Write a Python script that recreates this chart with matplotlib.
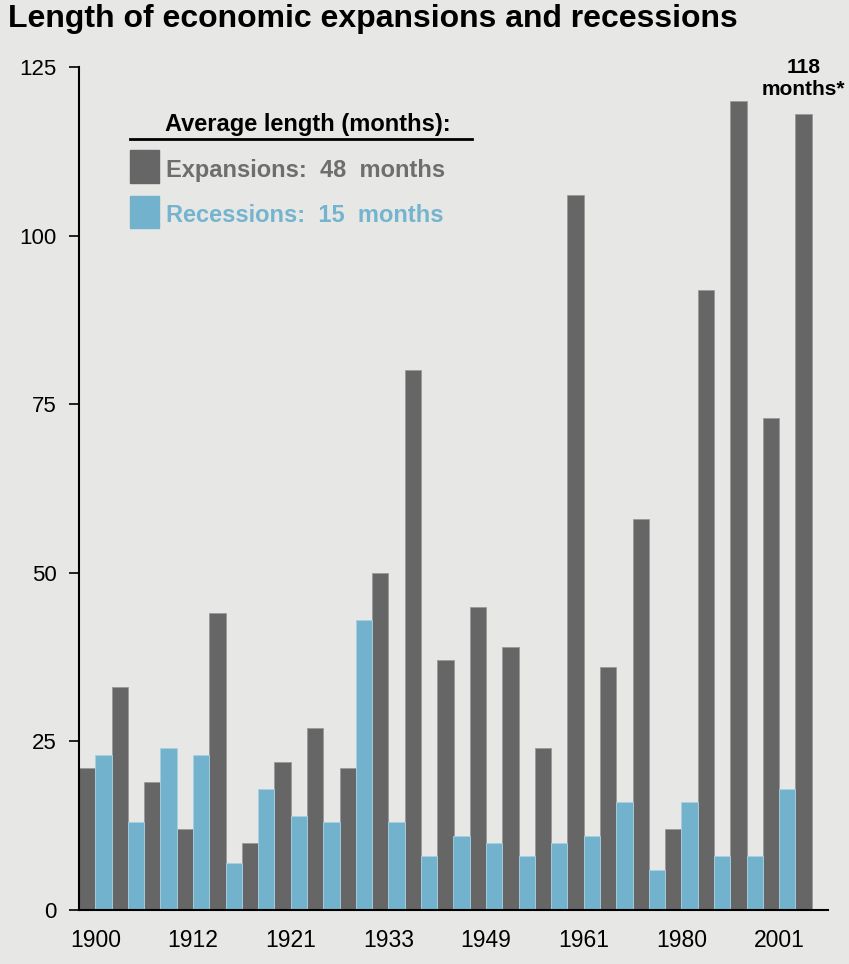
import numpy as np
import matplotlib
matplotlib.use('Agg')
import matplotlib.pyplot as plt
from matplotlib.patches import Rectangle
from matplotlib.lines import Line2D

plt.rcParams['font.family'] = ['Liberation Sans', 'DejaVu Sans']

# one category per cycle: expansion followed by recession (last cycle still running)
expansions = [21, 33, 19, 12, 44, 10, 22, 27, 21, 50, 80, 37, 45, 39, 24, 106, 36, 58, 12, 92, 120, 73, 118]
recessions = [23, 13, 24, 23, 7, 18, 14, 13, 43, 13, 8, 11, 10, 8, 10, 11, 16, 6, 16, 8, 8, 18]
tick_labels = ['1900', '1912', '1921', '1933', '1949', '1961', '1980', '2001']
tick_every = 3
avg_expansion = 48
avg_recession = 15

BG = '#e7e7e5'
GRAY = '#666666'
BLUE = '#73b2cc'

W, H = 849, 964
fig = plt.figure(figsize=(W / 100, H / 100), dpi=100, facecolor=BG)


def fx(px):
    return px / W


def fy(py):
    return 1 - py / H


ax = fig.add_axes([fx(79), fy(910), fx(828) - fx(79), fy(67) - fy(910)])
ax.set_facecolor(BG)

n = len(expansions)
x = np.arange(n)
ax.bar(x - 0.25, expansions, width=0.5, color=GRAY, edgecolor='#9a9a9a', linewidth=0.6, zorder=2)
ax.bar(x[:len(recessions)] + 0.25, recessions, width=0.5, color=BLUE, edgecolor='#a6d0e2', linewidth=0.6, zorder=2)

ax.set_xlim(-0.5, n - 0.5)
ax.set_ylim(0, 125)
ax.set_yticks([0, 25, 50, 75, 100, 125])
ax.set_xticks(x[::tick_every])
ax.set_xticklabels(tick_labels)
ax.tick_params(axis='y', direction='out', length=7, width=1.2, labelsize=16, pad=9)
ax.tick_params(axis='x', length=0, labelsize=16.5, pad=14)
for s in ['top', 'right']:
    ax.spines[s].set_visible(False)
ax.spines['left'].set_linewidth(1.5)
ax.spines['bottom'].set_linewidth(1.5)
ax.spines['left'].set_zorder(3)
ax.spines['bottom'].set_zorder(3)

# label for the current expansion
ax.annotate(f'{expansions[-1]}\nmonths*', xy=(n - 1 - 0.25, expansions[-1]), xytext=(0, 11),
            textcoords='offset points', ha='center', va='bottom', fontsize=15,
            fontweight='bold', linespacing=1.2)

# title
fig.text(fx(8), fy(19), 'Length of economic expansions and recessions', fontsize=23,
         fontweight='bold', ha='left', va='center')

# legend block
fig.text(fx(165), fy(125), 'Average length (months):', fontsize=17, fontweight='bold',
         ha='left', va='center')
fig.add_artist(Line2D([fx(130), fx(472)], [fy(139), fy(139)], color='black', lw=2))
fig.add_artist(Rectangle((fx(130), fy(183)), fx(29), fy(150) - fy(183), color=GRAY,
                         transform=fig.transFigure))
fig.add_artist(Rectangle((fx(130), fy(228)), fx(29), fy(196) - fy(228), color=BLUE,
                         transform=fig.transFigure))
fig.text(fx(166), fy(170), f'Expansions:  {avg_expansion}  months', fontsize=17,
         fontweight='bold', color='#6e6e6e', ha='left', va='center')
fig.text(fx(166), fy(215), f'Recessions:  {avg_recession}  months', fontsize=17,
         fontweight='bold', color='#74b4ce', ha='left', va='center')

fig.savefig('out.png', dpi=100, facecolor=BG)
